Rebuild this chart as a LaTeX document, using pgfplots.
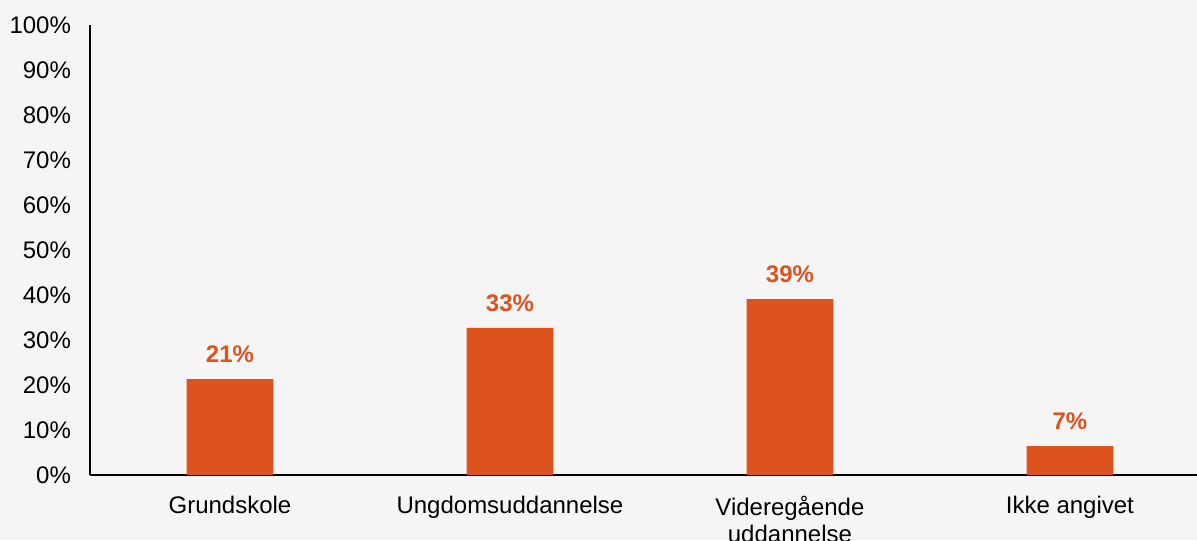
\documentclass[border=0pt]{standalone}
\usepackage{fontspec}
\setmainfont{Liberation Sans}
\usepackage{pgfplots}
\pgfplotsset{compat=1.18}
\definecolor{bg}{RGB}{245,245,245}
\definecolor{barc}{RGB}{220,83,30}
\begin{document}
\begin{tikzpicture}
\fill[bg] (0,0) rectangle (598.5pt,270pt);
\useasboundingbox (0,0) rectangle (598.5pt,270pt);
\begin{axis}[
  at={(45pt,32.5pt)}, anchor=south west,
  scale only axis, width=553.5pt, height=225pt,
  xmin=-0.5, xmax=3.454, ymin=0, ymax=100,
  axis x line*=bottom, axis y line*=left,
  axis line style={-, line width=0.6pt, black},
  xtick={0,1,2,3},
  xticklabels={Grundskole, Ungdomsuddannelse, {Videregående\\uddannelse}, Ikke angivet},
  ytick={0,10,...,100},
  yticklabel={\pgfmathprintnumber{\tick}\%},
  /pgf/number format/assume math mode=true,
  major tick length=0pt,
  tick label style={font=\fontsize{12}{13.5}\selectfont},
  xticklabel style={align=center, anchor=north, yshift=-7pt},
  yticklabel style={anchor=east, xshift=-6pt},
  clip=false,
]
\addplot[ybar, bar width=0.31, fill=barc, draw=none,
  nodes near coords, point meta=explicit symbolic,
  every node near coord/.append style={font=\fontsize{12}{13}\selectfont\bfseries, text=barc, yshift=4.5pt}]
  coordinates {(0,21.3) [21\%] (1,32.7) [33\%] (2,39.1) [39\%] (3,6.4) [7\%]};
\end{axis}
\end{tikzpicture}
\end{document}
